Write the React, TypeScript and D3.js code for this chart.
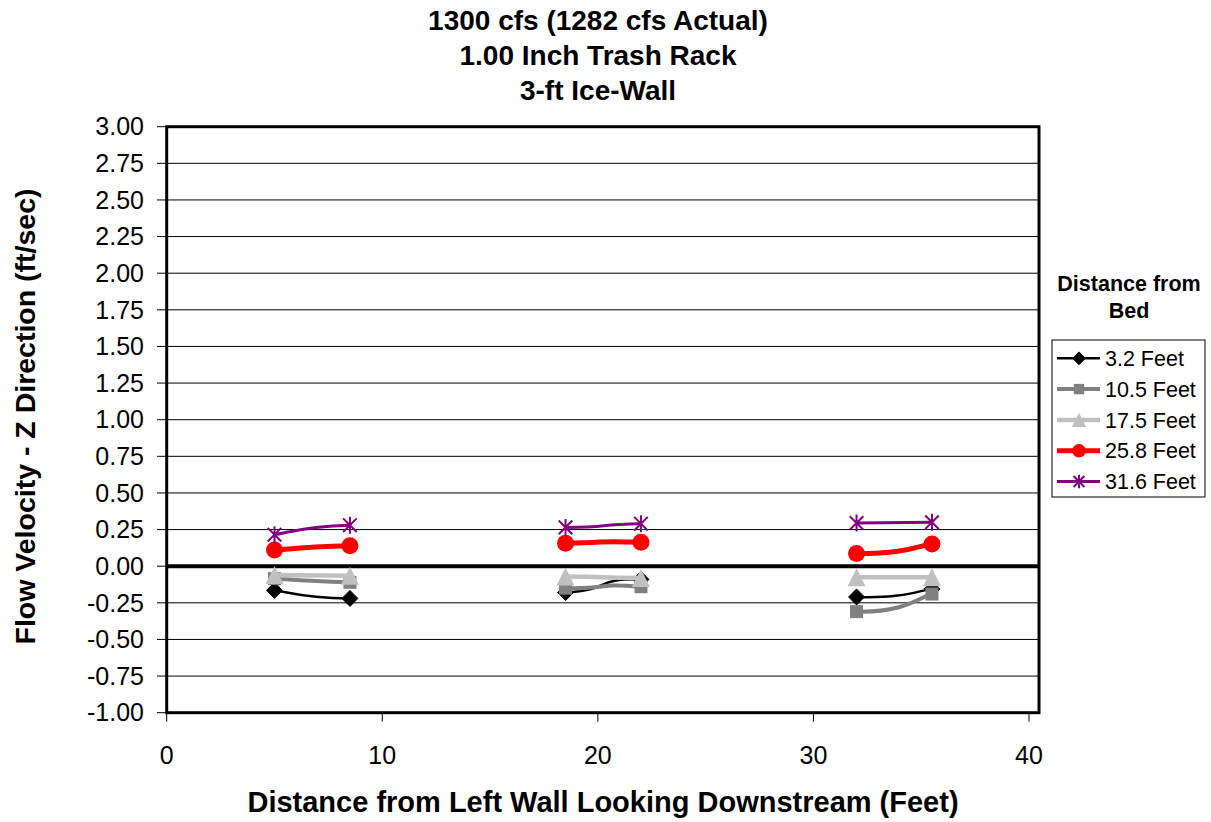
import React from "react";
import * as d3 from "d3";

const titleLines = ["1300 cfs (1282 cfs Actual)", "1.00 Inch Trash Rack", "3-ft Ice-Wall"];
const xTitle = "Distance from Left Wall Looking Downstream (Feet)";
const yTitle = "Flow Velocity - Z Direction (ft/sec)";
const legendTitle = ["Distance from", "Bed"];

const xValues = [5, 8.5, 18.5, 22, 32, 35.5];
const clusters = [0, 0, 1, 1, 2, 2];
const xTicks = [0, 10, 20, 30, 40];
const yTicks = d3.range(-1, 3.0001, 0.25);

const seriesNames = ["3.2 Feet", "10.5 Feet", "17.5 Feet", "25.8 Feet", "31.6 Feet"];
const v32 = [-0.165, -0.22, -0.18, -0.09, -0.21, -0.155];
const v105 = [-0.085, -0.11, -0.15, -0.14, -0.31, -0.19];
const v175 = [-0.06, -0.065, -0.07, -0.08, -0.075, -0.075];
const v258 = [0.11, 0.14, 0.157, 0.163, 0.086, 0.152];
const v316 = [0.215, 0.28, 0.265, 0.29, 0.295, 0.3];
const seriesValues = [v32, v105, v175, v258, v316];

type Style = { color: string; width: number; marker: string; size: number };
const styles: Style[] = [
  { color: "#000000", width: 2.5, marker: "diamond", size: 8 },
  { color: "#808080", width: 4, marker: "square", size: 6.5 },
  { color: "#C0C0C0", width: 4.5, marker: "triangle", size: 9 },
  { color: "#FF0000", width: 5, marker: "circle", size: 8.5 },
  { color: "#800080", width: 3, marker: "star", size: 8.5 },
];

const W = 1211;
const H = 822;
const plot = { left: 166.7, right: 1039, top: 126.7, bottom: 712.7 };
const FONT = "'Liberation Sans', Arial, Helvetica, sans-serif";

const x = d3.scaleLinear().domain([0, 40]).range([plot.left, 1029]);
const y = d3.scaleLinear().domain([-1, 3]).range([plot.bottom, plot.top]);

function smoothPath(vals: number[]): string {
  const pts = xValues.map((xv, i) => [x(xv), y(vals[i])] as [number, number]);
  const p = d3.path();
  for (let i = 0; i < pts.length - 1; i++) {
    if (clusters[i] !== clusters[i + 1]) continue;
    const p0 = pts[Math.max(0, i - 1)];
    const p1 = pts[i];
    const p2 = pts[i + 1];
    const p3 = pts[Math.min(pts.length - 1, i + 2)];
    const c1 = [p1[0] + (p2[0] - p0[0]) / 6, p1[1] + (p2[1] - p0[1]) / 6];
    const c2 = [p2[0] - (p3[0] - p1[0]) / 6, p2[1] - (p3[1] - p1[1]) / 6];
    p.moveTo(p1[0], p1[1]);
    p.bezierCurveTo(c1[0], c1[1], c2[0], c2[1], p2[0], p2[1]);
  }
  return p.toString();
}

function Marker({ cx, cy, s }: { cx: number; cy: number; s: Style }) {
  const r = s.size;
  if (s.marker === "diamond") {
    return <path d={`M${cx},${cy - r}L${cx + r},${cy}L${cx},${cy + r}L${cx - r},${cy}Z`} fill={s.color} stroke={s.color} strokeWidth={1} />;
  }
  if (s.marker === "square") {
    return <rect x={cx - r} y={cy - r} width={2 * r} height={2 * r} fill={s.color} />;
  }
  if (s.marker === "triangle") {
    return <path d={`M${cx},${cy - r}L${cx + r},${cy + r}L${cx - r},${cy + r}Z`} fill={s.color} />;
  }
  if (s.marker === "circle") {
    return <circle cx={cx} cy={cy} r={r} fill={s.color} />;
  }
  const a = r * 0.8;
  return (
    <path
      d={`M${cx - a},${cy - a}L${cx + a},${cy + a}M${cx - a},${cy + a}L${cx + a},${cy - a}M${cx},${cy - r}L${cx},${cy + r}`}
      stroke={s.color}
      strokeWidth={2}
      fill="none"
    />
  );
}

export default function App() {
  const fmt = (v: number) => d3.format(".2f")(v).replace("\u2212", "-");
  const legendX = 1052;
  const legendY = 340;
  const rowH = 30.8;
  return (
    <svg width={W} height={H} style={{ position: "absolute", left: 0, top: 0, background: "#fff" }} fontFamily={FONT}>
      <rect x={0} y={0} width={W} height={H} fill="#fff" />
      {titleLines.map((t, i) => (
        <text key={t} x={598} y={30 + i * 35} textAnchor="middle" fontSize={28} fontWeight="bold">
          {t}
        </text>
      ))}
      {/* gridlines */}
      {yTicks.map((t) => (
        <line key={"g" + t} x1={plot.left} x2={plot.right} y1={y(t)} y2={y(t)} stroke="#000" strokeWidth={1} />
      ))}
      {/* y ticks */}
      {yTicks.map((t) => (
        <g key={"yt" + t}>
          <line x1={157} x2={plot.left} y1={y(t)} y2={y(t)} stroke="#000" strokeWidth={1} />
          <text x={144} y={y(t)} dy="0.35em" textAnchor="end" fontSize={25}>
            {fmt(t)}
          </text>
        </g>
      ))}
      {xTicks.map((t) => (
        <g key={"xt" + t}>
          <line x1={x(t)} x2={x(t)} y1={plot.bottom} y2={plot.bottom + 9} stroke="#000" strokeWidth={1} />
          <text x={x(t)} y={764} textAnchor="middle" fontSize={25}>
            {t}
          </text>
        </g>
      ))}
      {/* zero line */}
      <line x1={plot.left} x2={plot.right} y1={y(0)} y2={y(0)} stroke="#000" strokeWidth={4} />
      {/* border */}
      <rect x={plot.left} y={plot.top} width={plot.right - plot.left} height={plot.bottom - plot.top} fill="none" stroke="#000" strokeWidth={3} />
      {/* series */}
      {seriesValues.map((vals, si) => (
        <g key={"s" + si}>
          <path d={smoothPath(vals)} fill="none" stroke={styles[si].color} strokeWidth={styles[si].width} />
          {vals.map((v, i) => (
            <Marker key={i} cx={x(xValues[i])} cy={y(v)} s={styles[si]} />
          ))}
        </g>
      ))}
      {/* axis titles */}
      <text x={603} y={812} textAnchor="middle" fontSize={29} fontWeight="bold">
        {xTitle}
      </text>
      <text transform="translate(35,416.5) rotate(-90)" textAnchor="middle" fontSize={28.5} fontWeight="bold">
        {yTitle}
      </text>
      {/* legend */}
      {legendTitle.map((t, i) => (
        <text key={t} x={1129} y={291 + i * 27} textAnchor="middle" fontSize={21.5} fontWeight="bold">
          {t}
        </text>
      ))}
      <rect x={legendX} y={legendY} width={153} height={157} fill="#fff" stroke="#000" strokeWidth={1} />
      {seriesNames.map((n, i) => {
        const cy = legendY + 18.3 + i * rowH;
        const s = styles[i];
        return (
          <g key={n}>
            <line x1={1057} x2={1100} y1={cy} y2={cy} stroke={s.color} strokeWidth={s.width} />
            <Marker cx={1079} cy={cy} s={{ ...s, size: s.size * 0.8 }} />
            <text x={1105} y={cy} dy="0.36em" fontSize={21.5}>
              {n}
            </text>
          </g>
        );
      })}
    </svg>
  );
}
